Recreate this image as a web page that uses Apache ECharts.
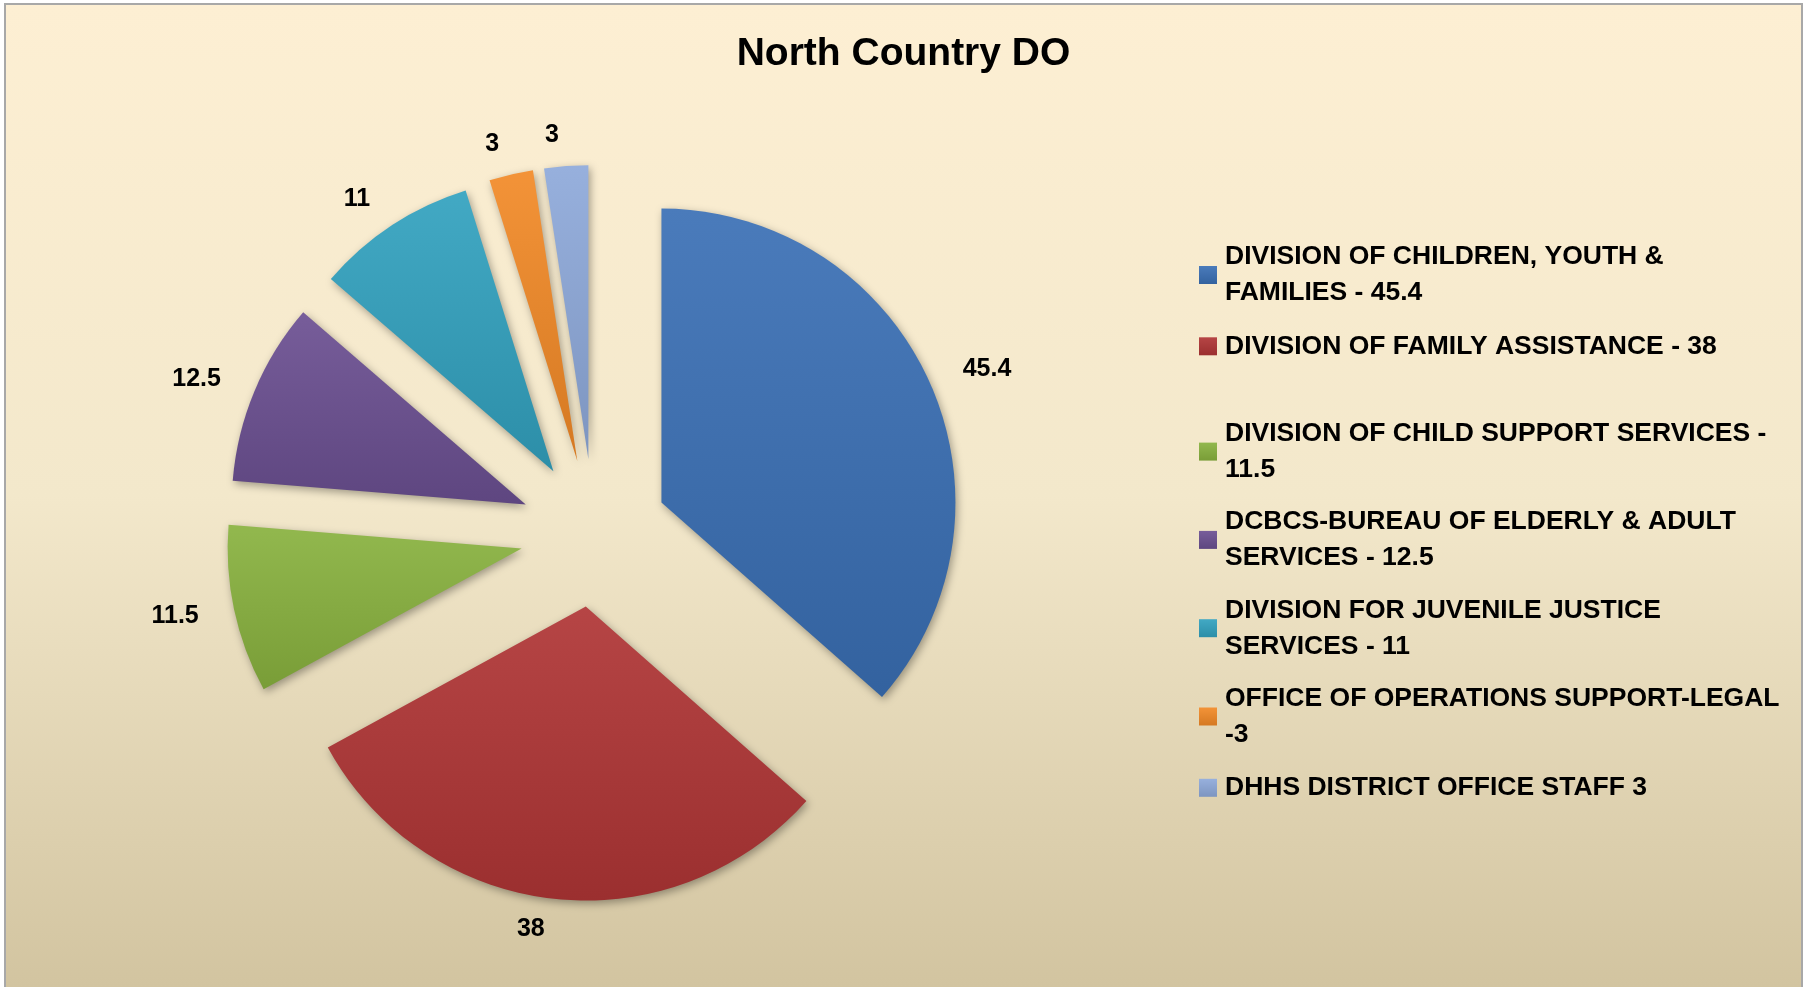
<!DOCTYPE html>
<html>
<head>
<meta charset="utf-8">
<title>North Country DO</title>
<script src="https://cdn.jsdelivr.net/npm/echarts@6/dist/echarts.min.js"></script>
<style>
	html, body{margin:0;padding:0;background:#fff;overflow:hidden;}
	#frame{position:absolute;left:4px;top:3px;width:1795px;height:982px;border:2px solid #a8a8a8;border-bottom:none;}
	#main{width:100%;height:100%;}
</style>
</head>
<body>
<div id="frame"><div id="main"></div></div>
<script>
	// data
	var categories = [
		'DIVISION OF CHILDREN, YOUTH & FAMILIES - 45.4',
		'DIVISION OF FAMILY ASSISTANCE - 38',
		'DIVISION OF CHILD SUPPORT SERVICES - 11.5',
		'DCBCS-BUREAU OF ELDERLY & ADULT SERVICES - 12.5',
		'DIVISION FOR JUVENILE JUSTICE SERVICES - 11',
		'OFFICE OF OPERATIONS SUPPORT-LEGAL -3',
		'DHHS DISTRICT OFFICE STAFF 3'
	];
	var values = [45.4, 38, 11.5, 12.5, 11, 3, 3];
	// legend text as wrapped in the picture
	var legendLines = [
		'DIVISION OF CHILDREN, YOUTH &\nFAMILIES - 45.4',
		'DIVISION OF FAMILY ASSISTANCE - 38',
		'DIVISION OF CHILD SUPPORT SERVICES -\n11.5',
		'DCBCS-BUREAU OF ELDERLY & ADULT\nSERVICES - 12.5',
		'DIVISION FOR JUVENILE JUSTICE\nSERVICES - 11',
		'OFFICE OF OPERATIONS SUPPORT-LEGAL\n-3',
		'DHHS DISTRICT OFFICE STAFF 3'
	];

	var palette = ['#3a6fb5','#b03535','#89b23f','#6b4f91','#32a1bf','#f28a27','#8ea9da'];
	var font = "'Liberation Sans', Arial, sans-serif";

	function shade(hex, f){
		var n = parseInt(hex.slice(1), 16);
		var r = (n >> 16) & 255, g = (n >> 8) & 255, b = n & 255;
		function c(v){ v = f > 0 ? v + (255 - v) * f : v * (1 + f); return Math.round(Math.max(0, Math.min(255, v))); }
		return 'rgb(' + c(r) + ',' + c(g) + ',' + c(b) + ')';
	}
	function sliceColor(hex){
		return new echarts.graphic.LinearGradient(0, 0, 0, 1, [
			{offset: 0, color: shade(hex, 0.08)},
			{offset: 1, color: shade(hex, -0.12)}
		]);
	}

	var legendTop0 = 248, legendStep = 88.3;

	var myChart = echarts.init(document.getElementById('main'));
	var option = {
		animation: false,
		backgroundColor: new echarts.graphic.LinearGradient(0, 0, 0, 1, [
			{offset: 0, color: '#fdefd3'},
			{offset: 0.5, color: '#f3e8cb'},
			{offset: 1, color: '#d2c4a0'}
		]),
		title: {
			text: 'North Country DO',
			left: 'center',
			top: 25,
			textStyle: {fontFamily: font, fontSize: 39, fontWeight: 'bold', color: '#000'}
		},
		legend: categories.map(function(name, i){
			var twoLine = legendLines[i].indexOf('\n') >= 0;
			return {
				data: [name],
				orient: 'vertical',
				left: 1193,
				top: legendTop0 + i * legendStep - 13 - (twoLine ? 19 : 0),
				padding: 0,
				icon: 'rect',
				itemWidth: 18,
				itemHeight: 18,
				selectedMode: false,
				formatter: function(){ return legendLines[i]; },
				textStyle: {
					fontFamily: font, fontSize: 26.5, fontWeight: 'bold', color: '#000',
					lineHeight: 36,
					padding: twoLine ? [36, 0, 0, 3] : [0, 0, 0, 3]
				}
			};
		}),
		series: [{
			type: 'pie',
			radius: 294,
			center: [588, 528],
			startAngle: 90,
			clockwise: true,
			selectedMode: 'multiple',
			selectedOffset: 74,
			avoidLabelOverlap: false,
			label: {
				show: true,
				position: 'outside',
				formatter: '{c}',
				fontFamily: font, fontSize: 25, fontWeight: 'bold', color: '#000'
			},
			labelLine: {show: false, length: 31, length2: 0},
			itemStyle: {
				shadowBlur: 8,
				shadowColor: 'rgba(0,0,0,0.35)',
				shadowOffsetX: 2,
				shadowOffsetY: 3
			},
			emphasis: {scale: false},
			data: categories.map(function(name, i){
				return {name: name, value: values[i], selected: true, itemStyle: {color: sliceColor(palette[i])}};
			})
		}]
	};
	myChart.setOption(option);
</script>
</body>
</html>
